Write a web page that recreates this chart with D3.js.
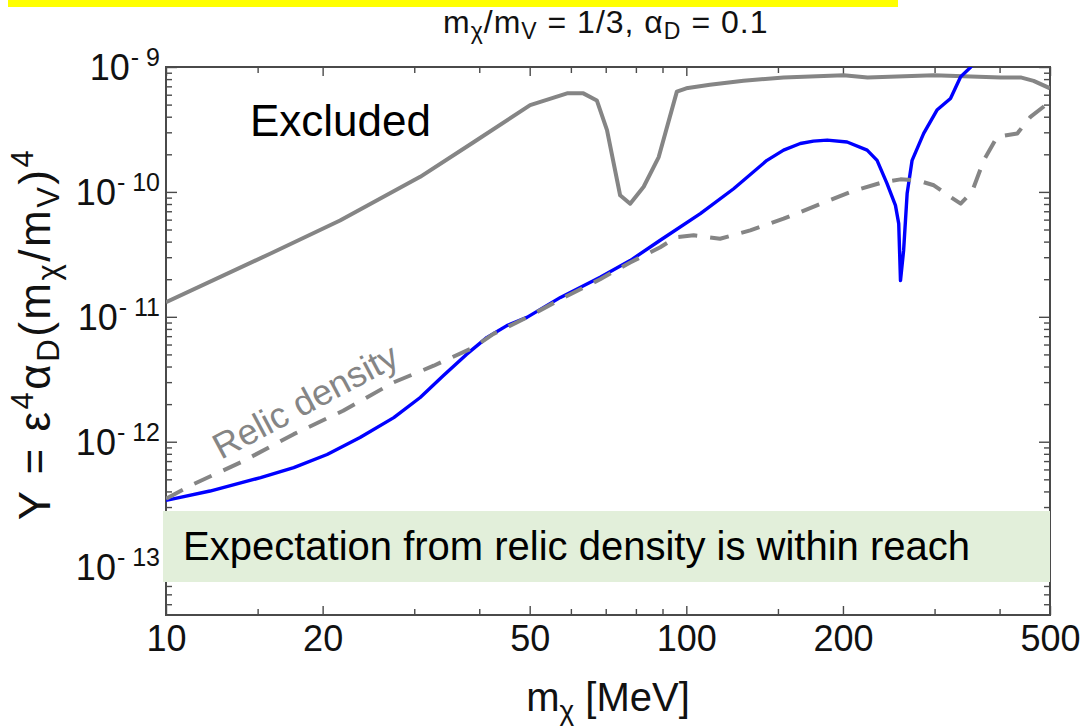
<!DOCTYPE html>
<html>
<head>
<meta charset="utf-8">
<script src="https://cdn.jsdelivr.net/npm/d3@7"></script>
<style>
  html, body { margin: 0; padding: 0; background: #fff; }
  svg { display: block; font-family: "Liberation Sans", Arial, Helvetica, sans-serif; }
</style>
</head>
<body>
<svg id="chart" width="1088" height="727"></svg>
<script>
// Current exclusion boundary (solid grey)
const excludedMass = [10, 15.85, 21.6, 30.8, 39, 50.1, 59, 63.4, 67.3, 70.4, 74.6, 78, 82.8, 88.5, 95.9, 100, 111, 128.8, 153.8, 200.6, 223, 299, 402, 439, 465, 500];
const excludedY    = [1.31e-11, 3.2e-11, 5.9e-11, 1.32e-10, 2.5e-10, 4.95e-10, 6.15e-10, 6.15e-10, 5.4e-10, 3.12e-10, 9.4e-11, 8.05e-11, 1.1e-10, 1.9e-10, 6.35e-10, 6.75e-10, 7.2e-10, 7.75e-10, 8.25e-10, 8.6e-10, 8.25e-10, 8.6e-10, 8.25e-10, 8.25e-10, 7.75e-10, 6.75e-10];

// Projected sensitivity (solid blue)
const reachMass = [10, 12.15, 15.2, 17.6, 20.4, 23.6, 27.4, 30.8, 34.1, 37.8, 41.4, 45.2, 49.4, 57.3, 68.3, 78, 89.1, 106.4, 123.3, 142.9, 153.8, 165.6, 175.5, 186.5, 203.7, 222.6, 232.6, 243, 252.3, 256, 258, 261.6, 265.7, 271.6, 285.9, 303.2, 321.9, 336.7, 351.8, 362];
const reachY    = [3.39e-13, 4.03e-13, 5.16e-13, 6.2e-13, 7.9e-13, 1.08e-12, 1.56e-12, 2.26e-12, 3.37e-12, 5.0e-12, 6.84e-12, 8.5e-12, 9.9e-12, 1.43e-11, 2.07e-11, 2.82e-11, 4.1e-11, 6.7e-11, 1.06e-10, 1.79e-10, 2.16e-10, 2.44e-10, 2.55e-10, 2.6e-10, 2.51e-10, 2.16e-10, 1.79e-10, 1.17e-10, 7.8e-11, 5.57e-11, 1.95e-11, 3.4e-11, 9.7e-11, 1.79e-10, 2.94e-10, 4.52e-10, 5.6e-10, 8.35e-10, 9.93e-10, 1.2e-9];

// Thermal relic target (dashed grey)
const relicMass = [10, 11.28, 14.08, 17.6, 21.9, 27.4, 32.7, 39, 42.6, 49.4, 57.3, 68.3, 78, 89.1, 95.9, 103.3, 116.1, 132.7, 153.8, 178.2, 206.5, 239.5, 258, 277.7, 299, 322, 336.7, 354, 373, 395.7, 432.7, 458.6, 500];
const relicY    = [3.5e-13, 4.56e-13, 7.0e-13, 1.15e-12, 1.77e-12, 2.99e-12, 4.06e-12, 5.69e-12, 7.3e-12, 9.9e-12, 1.38e-11, 2.0e-11, 2.72e-11, 3.61e-11, 4.35e-11, 4.49e-11, 4.22e-11, 4.92e-11, 6.1e-11, 7.8e-11, 9.98e-11, 1.2e-10, 1.26e-10, 1.24e-10, 1.13e-10, 9.1e-11, 8.05e-11, 9.98e-11, 1.79e-10, 2.76e-10, 2.94e-10, 3.99e-10, 5.27e-10];

// Axis ticks
const xMajorTicks = [10, 20, 50, 100, 200, 500];
const xMinorTicks = [15, 30, 40, 60, 70, 80, 90, 150, 300, 400];
const yMajorTicks = [1e-9, 1e-10, 1e-11, 1e-12, 1e-13];
const yExponents  = ["9", "10", "11", "12", "13"];

const svg = d3.select("#chart");
const plot = { left: 166, right: 1050, top: 67, bottom: 615 };

const x = d3.scaleLog().domain([10, 500]).range([plot.left, plot.right]);
const y = d3.scaleLog().domain([4.1e-14, 1e-9]).range([plot.bottom, plot.top]);
const yMinorTicks = y.ticks().filter(v => !yMajorTicks.some(m => Math.abs(v / m - 1) < 1e-6));

const frameColor = "#4a4a4a";
const grey = "#858585";

// highlight strip at the top edge
svg.append("rect").attr("x", 8).attr("y", 0).attr("width", 890).attr("height", 7).attr("fill", "#ffff00");

// clip region for curves
svg.append("defs").append("clipPath").attr("id", "plotClip")
  .append("rect").attr("x", plot.left).attr("y", plot.top)
  .attr("width", plot.right - plot.left).attr("height", plot.bottom - plot.top);

// ---- ticks (inward on all four sides) ----
function styleAxis(g) {
  g.select(".domain").remove();
  g.selectAll(".tick line").attr("stroke", frameColor).attr("stroke-width", 1.4);
}
const axes = svg.append("g");
axes.append("g").attr("transform", `translate(0,${plot.bottom})`)
  .call(d3.axisBottom(x).tickValues(xMajorTicks).tickSize(-9).tickPadding(10).tickFormat(d3.format("d")))
  .call(styleAxis)
  .call(g => g.selectAll(".tick text").attr("font-size", 36).attr("fill", "#111")
    .attr("font-family", "\"Liberation Sans\", Arial, sans-serif"));
axes.append("g").attr("transform", `translate(0,${plot.bottom})`)
  .call(d3.axisBottom(x).tickValues(xMinorTicks).tickSize(-6).tickFormat(""))
  .call(styleAxis);
axes.append("g").attr("transform", `translate(0,${plot.top})`)
  .call(d3.axisTop(x).tickValues(xMajorTicks).tickSize(-9).tickFormat(""))
  .call(styleAxis);
axes.append("g").attr("transform", `translate(0,${plot.top})`)
  .call(d3.axisTop(x).tickValues(xMinorTicks).tickSize(-6).tickFormat(""))
  .call(styleAxis);
axes.append("g").attr("transform", `translate(${plot.left},0)`)
  .call(d3.axisLeft(y).tickValues(yMajorTicks).tickSize(-11).tickFormat(""))
  .call(styleAxis);
axes.append("g").attr("transform", `translate(${plot.left},0)`)
  .call(d3.axisLeft(y).tickValues(yMinorTicks).tickSize(-6).tickFormat(""))
  .call(styleAxis);
axes.append("g").attr("transform", `translate(${plot.right},0)`)
  .call(d3.axisRight(y).tickValues(yMajorTicks).tickSize(-11).tickFormat(""))
  .call(styleAxis);
axes.append("g").attr("transform", `translate(${plot.right},0)`)
  .call(d3.axisRight(y).tickValues(yMinorTicks).tickSize(-6).tickFormat(""))
  .call(styleAxis);

// y tick labels as powers of ten
const yLabels = svg.append("g").attr("fill", "#111").attr("text-anchor", "end");
yMajorTicks.forEach((v, i) => {
  const t = yLabels.append("text").attr("x", plot.left - 6).attr("y", y(v) + 13).attr("font-size", 36);
  t.append("tspan").text("10");
  t.append("tspan").attr("font-size", 25).attr("dy", -14).attr("dx", 1).text("- " + yExponents[i]);
});

// frame
svg.append("rect").attr("x", plot.left).attr("y", plot.top)
  .attr("width", plot.right - plot.left).attr("height", plot.bottom - plot.top)
  .attr("fill", "none").attr("stroke", frameColor).attr("stroke-width", 2);

// ---- curves ----
const line = d3.line().x(d => x(d[0])).y(d => y(d[1]));
const curves = svg.append("g").attr("clip-path", "url(#plotClip)")
  .attr("fill", "none").attr("stroke-linejoin", "round");

curves.append("path").datum(d3.zip(excludedMass, excludedY))
  .attr("d", line).attr("stroke", grey).attr("stroke-width", 4);
curves.append("path").datum(d3.zip(reachMass, reachY))
  .attr("d", line).attr("stroke", "#0000ff").attr("stroke-width", 3.4);
curves.append("path").datum(d3.zip(relicMass, relicY))
  .attr("d", line).attr("stroke", grey).attr("stroke-width", 4)
  .attr("stroke-dasharray", "19,13");

// ---- annotations ----
svg.append("rect").attr("x", 163).attr("y", 511).attr("width", 887).attr("height", 71)
  .attr("fill", "#e2efda");
svg.append("text").attr("x", 183).attr("y", 560).attr("font-size", 40).attr("fill", "#000")
  .text("Expectation from relic density is within reach");

svg.append("text").attr("x", 250).attr("y", 136).attr("font-size", 44).attr("fill", "#000")
  .text("Excluded");

svg.append("text").attr("transform", "translate(221,460) rotate(-28)")
  .attr("font-size", 36).attr("fill", grey).text("Relic density");

// title
const title = svg.append("text").attr("x", 443).attr("y", 33).attr("font-size", 32)
  .attr("letter-spacing", 1).attr("fill", "#111");
title.append("tspan").text("m");
title.append("tspan").attr("font-size", 23).attr("dy", 6).text("χ");
title.append("tspan").attr("dy", -6).text("/m");
title.append("tspan").attr("font-size", 23).attr("dy", 6).text("V");
title.append("tspan").attr("dy", -6).text(" = 1/3, α");
title.append("tspan").attr("font-size", 23).attr("dy", 6).text("D");
title.append("tspan").attr("dy", -6).text(" = 0.1");

// x-axis title
const xt = svg.append("text").attr("x", 608).attr("y", 711).attr("text-anchor", "middle")
  .attr("font-size", 40).attr("fill", "#111");
xt.append("tspan").text("m");
xt.append("tspan").attr("font-size", 28).attr("dy", 9).text("χ");
xt.append("tspan").attr("dy", -9).text(" [MeV]");

// y-axis title
const yt = svg.append("text").attr("transform", "translate(50,334) rotate(-90)")
  .attr("text-anchor", "middle").attr("font-size", 44).attr("letter-spacing", 2.5).attr("fill", "#111");
yt.append("tspan").text("Y = ε");
yt.append("tspan").attr("font-size", 31).attr("dy", -17).text("4");
yt.append("tspan").attr("dy", 17).text("α");
yt.append("tspan").attr("font-size", 31).attr("dy", 9).text("D");
yt.append("tspan").attr("dy", -9).text("(m");
yt.append("tspan").attr("font-size", 31).attr("dy", 9).text("χ");
yt.append("tspan").attr("dy", -9).text("/m");
yt.append("tspan").attr("font-size", 31).attr("dy", 9).text("V");
yt.append("tspan").attr("dy", -9).text(")");
yt.append("tspan").attr("font-size", 31).attr("dy", -17).text("4");
</script>
</body>
</html>
